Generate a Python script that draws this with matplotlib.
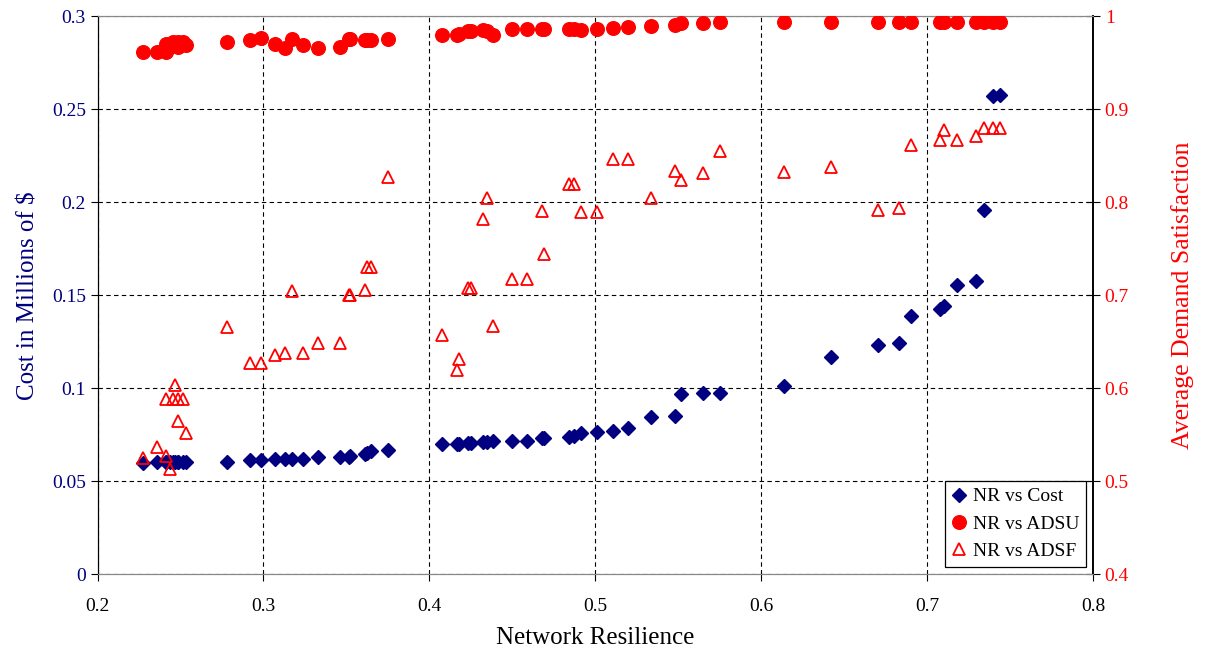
import matplotlib
matplotlib.use("Agg")
import matplotlib.pyplot as plt
from matplotlib.lines import Line2D

plt.rcParams['font.family'] = ['Liberation Serif', 'DejaVu Serif']

# Network resilience of each solution
nr = [0.2274, 0.2360, 0.2414, 0.2414, 0.2434, 0.2452, 0.2466, 0.2482, 0.2486, 0.2516, 0.2532,
      0.2781, 0.2920, 0.2986, 0.3070, 0.3131, 0.3171, 0.3238, 0.3326, 0.3462, 0.3517, 0.3521,
      0.3613, 0.3625, 0.3647, 0.3750,
      0.4074, 0.4168, 0.4180, 0.4234, 0.4248, 0.4324, 0.4348, 0.4385, 0.4499, 0.4590,
      0.4680, 0.4692, 0.4843, 0.4871, 0.4915, 0.5008, 0.5108, 0.5198, 0.5333, 0.5482,
      0.5516, 0.5650, 0.5751, 0.6137, 0.6420, 0.6705, 0.6832, 0.6901, 0.7077, 0.7101,
      0.7178, 0.7294, 0.7342, 0.7395, 0.7439]

# Cost in millions of dollars
cost = [0.0600, 0.0602, 0.0603, 0.0604, 0.0602, 0.0603, 0.0603, 0.0604, 0.0604, 0.0605, 0.0605,
        0.0606, 0.0612, 0.0614, 0.0618, 0.0620, 0.0620, 0.0622, 0.0628, 0.0630, 0.0632, 0.0634,
        0.0645, 0.0650, 0.0662, 0.0667,
        0.0701, 0.0701, 0.0703, 0.0705, 0.0706, 0.0712, 0.0713, 0.0717, 0.0719, 0.0719,
        0.0732, 0.0733, 0.0737, 0.0744, 0.0762, 0.0767, 0.0771, 0.0784, 0.0843, 0.0852,
        0.0970, 0.0974, 0.0977, 0.1012, 0.1168, 0.1234, 0.1243, 0.1390, 0.1426, 0.1444,
        0.1553, 0.1575, 0.1960, 0.2570, 0.2580]

# Average demand satisfaction, ADSU
adsu = [0.962, 0.962, 0.962, 0.970, 0.967, 0.972, 0.970, 0.973, 0.967, 0.972, 0.969,
        0.972, 0.9745, 0.9763, 0.9702, 0.9656, 0.9753, 0.969, 0.9656, 0.9667, 0.9756, 0.9756,
        0.9745, 0.9745, 0.9745, 0.9753,
        0.9799, 0.9799, 0.9810, 0.9845, 0.9845, 0.9853, 0.9845, 0.9800, 0.9860, 0.9860,
        0.9860, 0.9860, 0.9863, 0.9863, 0.9856, 0.9860, 0.9874, 0.9882, 0.9900, 0.9906,
        0.9930, 0.9930, 0.9940, 0.9942, 0.9942, 0.9942, 0.9942, 0.9942, 0.9942, 0.9942,
        0.9942, 0.9942, 0.9942, 0.9942, 0.9942]

# Average demand satisfaction, ADSF
adsf = [0.525, 0.537, 0.527, 0.588, 0.513, 0.588, 0.6035, 0.565, 0.588, 0.588, 0.552,
        0.6656, 0.6275, 0.6275, 0.6358, 0.6383, 0.705, 0.638, 0.649, 0.649, 0.7003, 0.7003,
        0.7057, 0.730, 0.730, 0.8275,
        0.657, 0.620, 0.6315, 0.7075, 0.7075, 0.782, 0.805, 0.667, 0.718, 0.718,
        0.7906, 0.744, 0.8197, 0.820, 0.790, 0.790, 0.847, 0.847, 0.805, 0.834,
        0.824, 0.832, 0.855, 0.833, 0.838, 0.7917, 0.7935, 0.8616, 0.867, 0.8777,
        0.867, 0.871, 0.8796, 0.880, 0.880]

x_ticks = [0.2, 0.3, 0.4, 0.5, 0.6, 0.7, 0.8]
cost_ticks = [0, 0.05, 0.1, 0.15, 0.2, 0.25, 0.3]
sat_ticks = [0.4, 0.5, 0.6, 0.7, 0.8, 0.9, 1.0]

navy = '#000080'
red = '#FF0000'

fig = plt.figure(figsize=(12.05, 6.57), dpi=100)
ax = fig.add_axes([0.081, 0.126, 0.826, 0.849])
ax2 = ax.twinx()

ax.set_xlim(0.2, 0.8)
ax.set_ylim(0, 0.3)
ax2.set_ylim(0.4, 1.0)

ax.set_xticks(x_ticks)
ax.set_xticklabels([f'{v:g}' for v in x_ticks])
ax.set_yticks(cost_ticks)
ax.set_yticklabels([f'{v:g}' for v in cost_ticks])
ax2.set_yticks(sat_ticks)
ax2.set_yticklabels([f'{v:g}' for v in sat_ticks])

ax.grid(True, color='black', linestyle=(0, (4, 3)), linewidth=0.8)
ax.set_axisbelow(True)

ax.plot(nr, cost, linestyle='none', marker='D', markersize=7.3,
        color=navy, markeredgecolor=navy, zorder=3)
ax2.plot(nr, adsu, linestyle='none', marker='o', markersize=9.8,
         color=red, markeredgecolor=red, zorder=3)
ax2.plot(nr, adsf, linestyle='none', marker='^', markersize=9.3,
         markerfacecolor='none', markeredgecolor=red, markeredgewidth=1.3, zorder=3)

ax.tick_params(axis='x', direction='out', length=5, labelsize=14, pad=12, colors='black')
ax.tick_params(axis='y', direction='out', length=5, labelsize=14, labelcolor=navy)
ax2.tick_params(axis='y', direction='inout', length=10, labelsize=14, labelcolor=red)

ax.set_xlabel('Network Resilience', fontsize=18, labelpad=9)
ax.set_ylabel('Cost in Millions of $', fontsize=18, color=navy, labelpad=9)
ax2.set_ylabel('Average Demand Satisfaction', fontsize=18.5, color=red, labelpad=30)

for a in (ax, ax2):
    a.spines['top'].set_color('#888888')
    a.spines['bottom'].set_color('#888888')
    a.spines['left'].set_color('black')
    a.spines['right'].set_color('black')
    a.spines['right'].set_linewidth(1.2)

handles = [
    Line2D([], [], linestyle='none', marker='D', markersize=7.3, color=navy),
    Line2D([], [], linestyle='none', marker='o', markersize=9.8, color=red),
    Line2D([], [], linestyle='none', marker='^', markersize=9.3,
           markerfacecolor='none', markeredgecolor=red, markeredgewidth=1.3),
]
labels = ['NR vs Cost', 'NR vs ADSU', 'NR vs ADSF']
leg = ax2.legend(handles, labels, loc='lower right', bbox_to_anchor=(0.993, 0.013),
                 fontsize=14, frameon=True, fancybox=False, framealpha=1,
                 edgecolor='black', handlelength=0.8, handletextpad=0.3,
                 borderpad=0.35, labelspacing=0.5, borderaxespad=0.0)
leg.get_frame().set_linewidth(0.9)

fig.savefig('out.png', dpi=100)
